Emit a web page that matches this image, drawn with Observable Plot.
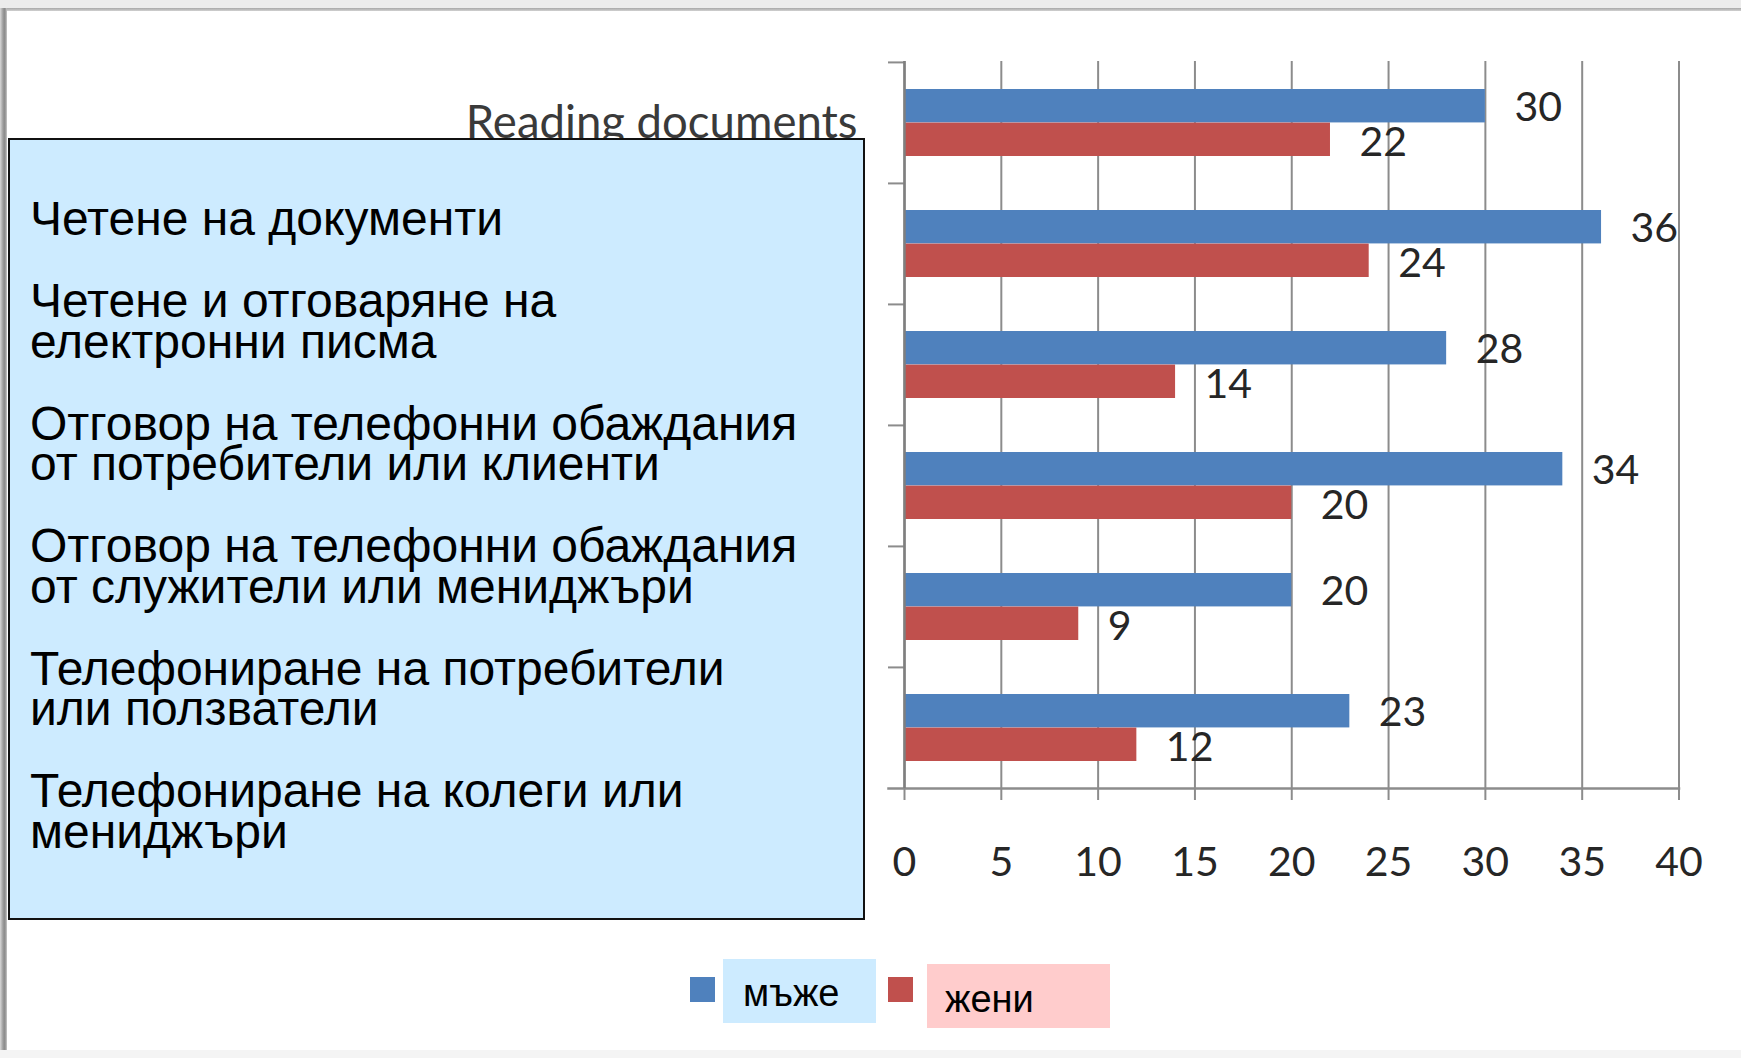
<!DOCTYPE html>
<html>
<head>
<meta charset="utf-8">
<script src="https://cdn.jsdelivr.net/npm/d3@7"></script>
<script src="https://cdn.jsdelivr.net/npm/@observablehq/plot@0.6"></script>
<style>
  html, body { margin: 0; padding: 0; background: #ffffff; }
  #wrap { position: relative; width: 1741px; height: 1058px; overflow: hidden; background: #ffffff; }
  #chart { position: absolute; left: 0; top: 0; }
  #topstrip { position: absolute; left: 0; top: 0; width: 1741px; height: 8px; background: #ececec; }
  #topline { position: absolute; left: 0; top: 8px; width: 1741px; height: 3px; background: linear-gradient(#a8a8a8, #d0d0d0); }
  #leftline { position: absolute; left: 0; top: 8px; width: 7px; height: 1042px; background: linear-gradient(to right, #d8d8d8, #9a9a9a 45%, #8a8a8a 70%, #c8c8c8); }
  #bottomstrip { position: absolute; left: 0; top: 1050px; width: 1741px; height: 8px; background: #f4f4f4; }
  #box { position: absolute; left: 8px; top: 138px; width: 857px; height: 782px; box-sizing: border-box;
         background: #cdebff; border: 2px solid #111; padding: 59px 0 0 20px;
         font-family: "Liberation Sans", Arial, sans-serif; font-size: 48px; color: #000; }
  #box .item { white-space: pre-line; line-height: 40.5px; margin-bottom: 41.5px; }
  .sw { position: absolute; width: 25px; height: 25px; }
  .lbox { position: absolute; height: 64px; box-sizing: border-box;
          font-family: "Liberation Sans", Arial, sans-serif; font-size: 38px; color: #000; line-height: 1; }
  .lbox span { position: absolute; }
</style>
</head>
<body>
<div id="wrap">
  <div id="chart"></div>
  <div id="topstrip"></div>
  <div id="topline"></div>
  <div id="leftline"></div>
  <div id="bottomstrip"></div>
  <div id="box"></div>
  <div id="legend"></div>
</div>
<script>
// ---- data ----
const categories = [
  "Четене на документи",
  "Четене и отговаряне на\nелектронни писма",
  "Отговор на телефонни обаждания\nот потребители или клиенти",
  "Отговор на телефонни обаждания\nот служители или мениджъри",
  "Телефониране на потребители\nили ползватели",
  "Телефониране на колеги или\nмениджъри"
];
const axisLabelEn = "Reading documents";
const series = ["мъже", "жени"];
const men = [30, 36, 28, 34, 20, 23];
const women = [22, 24, 14, 20, 9, 12];
const xTicks = [0, 5, 10, 15, 20, 25, 30, 35, 40];
const seriesColors = ["#4f81bd", "#c0504d"];
const legendBoxColors = ["#cdebff", "#ffcccc"];

// ---- table ----
const rows = categories.flatMap((c, i) => [
  {category: c, series: series[0], value: men[i]},
  {category: c, series: series[1], value: women[i]}
]);
const menRows = rows.filter(d => d.series === series[0]);
const womenRows = rows.filter(d => d.series === series[1]);

const W = 1741, H = 900, mT = 61, mB = 112, mL = 904, mR = 62.5;
const bw = (H - mT - mB) / categories.length;
const half = bw / 2;
const gray = "#8c8c8c";
const numFont = "Lato, 'Liberation Sans', sans-serif";

const chart = Plot.plot({
  width: W, height: H,
  marginTop: mT, marginBottom: mB, marginLeft: mL, marginRight: mR,
  style: {background: "transparent", color: "#262626", fontFamily: numFont, fontSize: "41px", overflow: "visible"},
  x: {domain: [0, 40], label: null},
  y: {type: "band", domain: categories, padding: 0, label: null},
  color: {domain: series, range: seriesColors},
  marks: [
    Plot.gridX(xTicks, {stroke: gray, strokeOpacity: 1, strokeWidth: 2}),
    Plot.axisX(xTicks, {label: null, tickSize: 12, tickPadding: 46, stroke: gray, strokeWidth: 2, tickFormat: d => String(d), fontSize: 41, fill: "#262626"}),
    Plot.frame({anchor: "bottom", stroke: gray, strokeWidth: 2.5, insetLeft: -16}),
    Plot.axisY({label: null, tickSize: 16, tickFormat: () => null, dy: -half, stroke: gray, strokeWidth: 2}),
    Plot.axisY({label: null, tickSize: 0, tickPadding: 47, fontSize: 45.5, fill: "#3a3a3a",
      tickFormat: d => d === categories[0] ? axisLabelEn : null}),
    Plot.barX(menRows, {x: "value", y: "category", fill: "series", insetTop: 27, insetBottom: half}),
    Plot.barX(womenRows, {x: "value", y: "category", fill: "series", insetTop: half, insetBottom: 27}),
    Plot.ruleX([0], {stroke: "#7f7f7f", strokeWidth: 2.5}),
    Plot.text(menRows, {x: "value", y: "category", text: d => String(d.value), textAnchor: "start",
      dx: 29, dy: -15.5, fontSize: 41, fill: "#262626"}),
    Plot.text(womenRows, {x: "value", y: "category", text: d => String(d.value), textAnchor: "start",
      dx: 29, dy: 19.5, fontSize: 41, fill: "#262626"})
  ]
});
document.getElementById("chart").appendChild(chart);

// ---- overlay box with Bulgarian category names ----
const box = document.getElementById("box");
categories.forEach(c => {
  const div = document.createElement("div");
  div.className = "item";
  div.textContent = c;
  box.appendChild(div);
});

// ---- legend ----
const legend = document.getElementById("legend");
const legendLayout = [
  {sw: [690, 977], box: [723, 959, 153], text: [20, 15]},
  {sw: [888, 977], box: [927, 964, 183], text: [18, 16]}
];
series.forEach((s, i) => {
  const L = legendLayout[i];
  const sw = document.createElement("div");
  sw.className = "sw";
  sw.style.left = L.sw[0] + "px"; sw.style.top = L.sw[1] + "px";
  sw.style.background = seriesColors[i];
  legend.appendChild(sw);
  const b = document.createElement("div");
  b.className = "lbox";
  b.style.left = L.box[0] + "px"; b.style.top = L.box[1] + "px"; b.style.width = L.box[2] + "px";
  b.style.background = legendBoxColors[i];
  const t = document.createElement("span");
  t.textContent = s;
  t.style.left = L.text[0] + "px"; t.style.top = L.text[1] + "px";
  b.appendChild(t);
  legend.appendChild(b);
});
</script>
</body>
</html>
